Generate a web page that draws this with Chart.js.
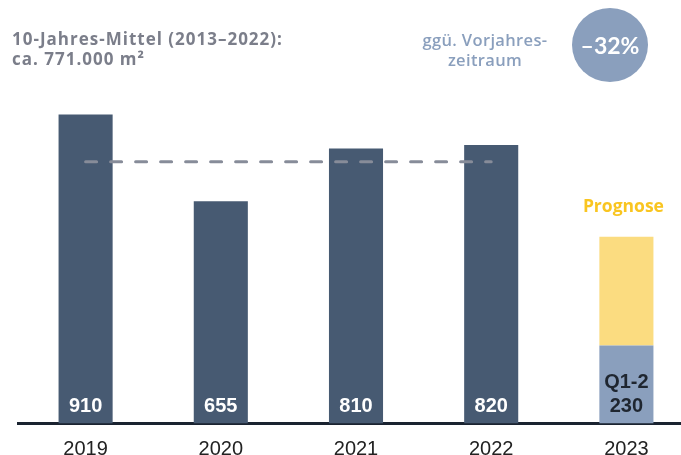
<!DOCTYPE html>
<html>
<head>
<meta charset="utf-8">
<script src="https://cdn.jsdelivr.net/npm/chart.js@4"></script>
<style>
  html, body { margin: 0; padding: 0; background: #fff; overflow: hidden; }
  #wrap { position: relative; width: 700px; height: 455px; }
  .note { position: absolute; font-family: "Open Sans", Lato, sans-serif; font-weight: 700; }
  #title { left: 12px; top: 29px; font-size: 17px; line-height: 20px; letter-spacing: 1px; color: #7b7e8a; }
  #compare { left: 410px; top: 30px; width: 150px; text-align: center; font-size: 16.5px; line-height: 20px; letter-spacing: 0.35px; color: #8a9fbd; font-weight: 600; }
  #badge { left: 572px; top: 8px; width: 76px; height: 74px; border-radius: 50%; background: #8a9fbd;
           color: #fff; font-size: 23px; line-height: 74px; text-align: center; font-family: Lato, sans-serif; }
</style>
</head>
<body>
<div id="wrap">
  <canvas id="chart"></canvas>
  <div class="note" id="title">10-Jahres-Mittel (2013–2022):<br>ca. 771.000 m²</div>
  <div class="note" id="compare">ggü. Vorjahres-<br>zeitraum</div>
  <div class="note" id="badge">–32%</div>
</div>
<script>
const years = ["2019", "2020", "2021", "2022", "2023"];
const takeUp = [910, 655, 810, 820, null];
const firstHalf = [null, null, null, null, 230];
const forecastRest = [null, null, null, null, 320];
const tenYearAvg = [771, 771, 771, 771, null];

const darkBlue = "#475a72";
const lightBlue = "#8a9fbd";
const yellow = "#fbdc80";

// value labels at the foot of the bars + "Prognose" above forecast
const barLabels = {
    id: "barLabels",
    afterDatasetsDraw(chart) {
        const ctx = chart.ctx;
        const bottom = chart.chartArea.bottom;
        ctx.save();
        ctx.textAlign = "center";
        ctx.textBaseline = "middle";
        ctx.font = "bold 20px 'Liberation Sans', Arial, sans-serif";

        chart.getDatasetMeta(0).data.forEach((bar, i) => {
            if (takeUp[i] == null) return;
            ctx.fillStyle = "#ffffff";
            ctx.fillText(takeUp[i], bar.x, bottom - 17);
        });

        chart.getDatasetMeta(1).data.forEach((bar, i) => {
            if (firstHalf[i] == null) return;
            ctx.fillStyle = "#1f2630";
            ctx.fillText("Q1-2", bar.x, bottom - 41);
            ctx.fillText(firstHalf[i], bar.x, bottom - 17);
        });

        chart.getDatasetMeta(2).data.forEach((bar, i) => {
            if (forecastRest[i] == null) return;
            ctx.fillStyle = "#f9c520";
            ctx.font = "bold 17.5px 'Open Sans', sans-serif";
            ctx.fillText("Prognose", bar.x - 3, bar.y - 30);
        });
        ctx.restore();
    }
};

new Chart(document.getElementById("chart"), {
    type: "bar",
    data: {
        labels: years,
        datasets: [{
            label: "Flächenumsatz",
            data: takeUp,
            backgroundColor: darkBlue,
            order: 2
        }, {
            label: "Q1-2",
            data: firstHalf,
            backgroundColor: lightBlue,
            order: 2
        }, {
            label: "Prognose",
            data: forecastRest,
            backgroundColor: yellow,
            order: 2
        }, {
            type: "line",
            label: "10-Jahres-Mittel",
            data: tenYearAvg,
            stack: "avg",
            borderColor: "#878c99",
            borderWidth: 3,
            borderDash: [11, 14],
            borderCapStyle: "round",
            pointRadius: 0,
            fill: false,
            order: 0
        }]
    },
    options: {
        responsive: true,
        maintainAspectRatio: false,
        animation: false,
        layout: { padding: { left: 18, right: 6, top: 84, bottom: 0 } },
        datasets: { bar: { categoryPercentage: 1, barPercentage: 0.4 } },
        plugins: {
            legend: { display: false },
            tooltip: { enabled: false }
        },
        scales: {
            x: {
                stacked: true,
                grid: { display: false, drawTicks: false },
                border: { color: "#1a2330", width: 3 },
                afterFit: scale => { scale.height = 31.5; },
                ticks: {
                    color: "#222222",
                    padding: 14,
                    font: { family: "'Liberation Sans', Arial, sans-serif", size: 20 }
                }
            },
            y: {
                stacked: true,
                display: false,
                min: 0,
                max: 1000
            }
        }
    },
    plugins: [barLabels]
});
</script>
</body>
</html>
